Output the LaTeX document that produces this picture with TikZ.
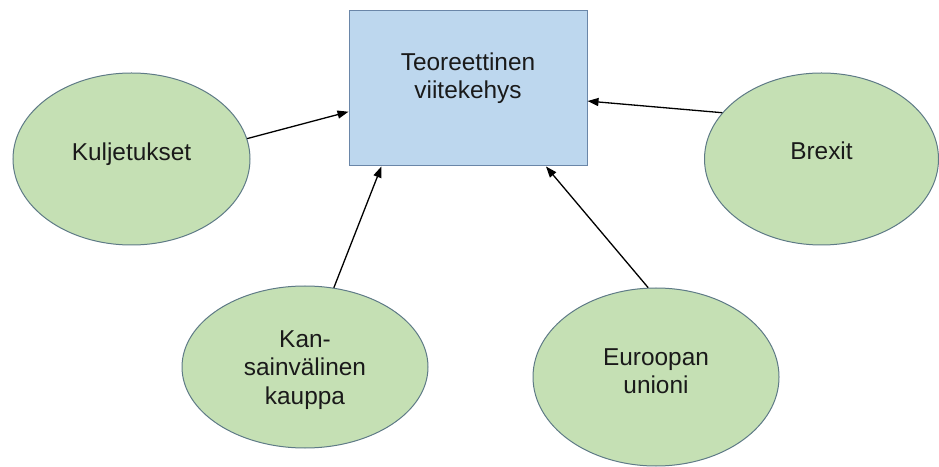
\documentclass[tikz,border=0pt]{standalone}
\usepackage{fontspec}
\setmainfont{Liberation Sans}
\usetikzlibrary{arrows.meta,shapes.geometric}
\definecolor{boxfill}{HTML}{BDD7EE}
\definecolor{boxline}{HTML}{6A86A8}
\definecolor{ellfill}{HTML}{C5E0B4}
\definecolor{ellline}{HTML}{5E7A86}
\definecolor{txt}{HTML}{1A1A1A}
\tikzset{
  mainbox/.style={draw=boxline, fill=boxfill, line width=1pt, minimum width=238pt, minimum height=155pt, inner sep=0pt},
  topic/.style={draw=ellline, fill=ellfill, line width=1pt, ellipse, inner sep=0pt},
  lbl/.style={font=\fontsize{24.4}{28.5}\selectfont, text=txt, align=center, inner sep=0pt},
  conn/.style={-{Triangle[length=11pt,width=8pt]}, line width=1.3pt, black}
}
\begin{document}
\begin{tikzpicture}[x=1pt,y=1pt]
\useasboundingbox (0,0) rectangle (939,466);
\node[mainbox] (rect) at (468,377.5) {};
\node[lbl] (rectt) at (468,388) {Teoreettinen\\viitekehys};
\node[topic, minimum width=237pt, minimum height=172pt] (kul) at (131.5,307) {};
\node[lbl] (kult) at (131.5,312) {Kuljetukset};
\node[topic, minimum width=234pt, minimum height=172pt] (bre) at (821.5,307) {};
\node[lbl] (bret) at (821.5,315) {Brexit};
\node[topic, minimum width=246pt, minimum height=162pt] (kan) at (305,99) {};
\node[lbl] (kant) at (305,96) {Kan-\\sainvälinen\\kauppa};
\node[topic, minimum width=246pt, minimum height=178pt] (eur) at (656,89) {};
\node[lbl] (eurt) at (656,95) {Euroopan\\unioni};
\draw[conn] (kul.10) -- (rect.191.5);
\draw[conn] (kan.70.5) -- (rect.222.1);
\draw[conn] (eur.95.7) -- (rect.315.9);
\draw[conn] (bre.155.2) -- (rect.354.05);
\end{tikzpicture}
\end{document}
